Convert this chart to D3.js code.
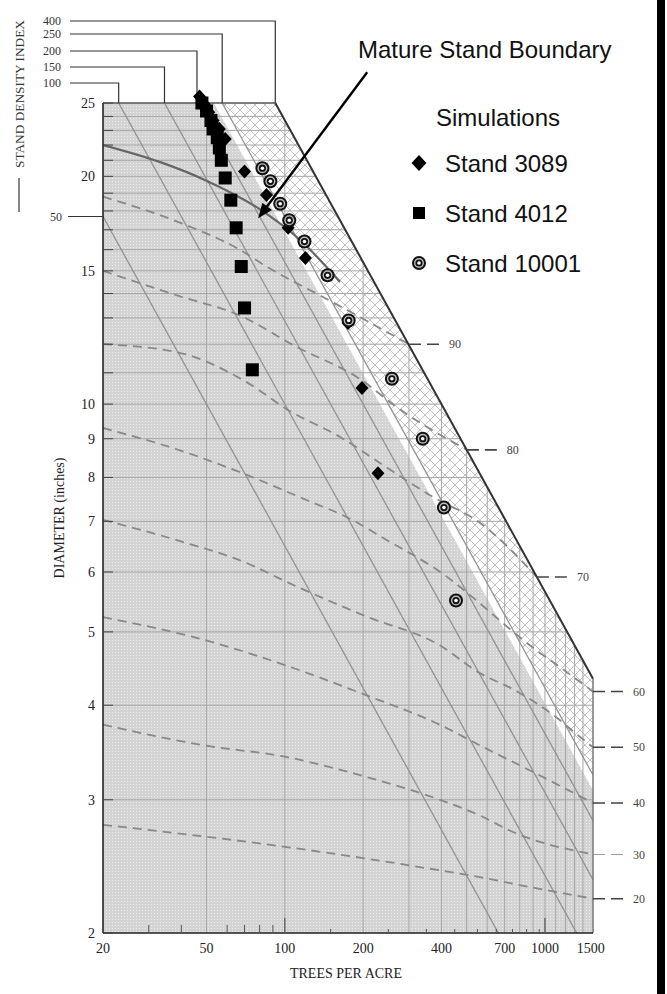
<!DOCTYPE html>
<html>
<head>
<meta charset="utf-8">
<script src="https://cdn.jsdelivr.net/npm/d3@7"></script>
<style>
  body { margin: 0; background: #fff; }
  svg { display: block; }
</style>
</head>
<body>
<svg id="chart" width="667" height="994"></svg>
<script>
// ---- data ----
const tpaTicks = [20, 50, 100, 200, 400, 700, 1000, 1500];
const tpaGrid = [50, 100, 200, 300, 400, 500, 600, 700, 800, 900, 1000, 1100, 1200, 1300, 1400];
const tpaMinor = [30, 40, 60, 70, 80, 90, 150, 250, 350, 450, 550, 650, 750, 850, 950];
const tpaMid = [100, 1000];
const diaTicks = [25, 20, 15, 10, 9, 8, 7, 6, 5, 4, 3, 2];
const diaGrid = d3.range(3, 25);

const sdiTopLabels = [400, 250, 200, 150, 100];
const sdiLines = [50, 100, 150, 200, 250];
const maxSdi = 400;
const stippleSdi = 232;
const hatchSdi = 250;

// dashed curves, [trees per acre, diameter]
const h90 = [[20, 18.8], [39, 17.4], [67, 16.0], [85, 15.2], [149, 13.7], [300, 12.0]];
const h80 = [[20, 15.0], [39, 13.9], [67, 13.1], [111, 11.9], [194, 10.8], [270, 9.9], [501, 8.7]];
const h70 = [[20, 12.0], [39, 11.7], [71, 10.7], [104, 9.8], [163, 9.05], [232, 8.36], [371, 7.54], [562, 6.97], [931, 5.91]];
const h60 = [[20, 9.3], [39, 8.7], [69, 8.1], [121, 7.47], [173, 7.09], [247, 6.61], [371, 6.09], [957, 4.69], [1143, 4.49], [1530, 4.17]];
const h50 = [[20, 7.03], [39, 6.6], [71, 6.17], [104, 5.8], [203, 5.25], [394, 4.8], [562, 4.41], [753, 4.2], [931, 4.02], [1112, 3.85], [1328, 3.66], [1530, 3.52]];
const h40 = [[20, 5.23], [49, 4.88], [100, 4.52], [203, 4.13], [394, 3.77], [562, 3.54], [876, 3.28], [1530, 2.97]];
const h30 = [[20, 3.77], [49, 3.54], [100, 3.42], [203, 3.22], [394, 3.0], [562, 2.86], [753, 2.72], [1530, 2.54]];
const h20 = [[20, 2.78], [100, 2.6], [203, 2.51], [394, 2.42], [562, 2.37], [876, 2.3], [1530, 2.22]];
const heightLabels = [90, 80, 70, 60, 50, 40, 30, 20];

const matureBoundary = [[20, 22.0], [33, 20.9], [49, 19.8], [80, 18.1], [114, 16.5], [163, 14.5]];
const arrowTip = [79, 17.6];

const stand3089Tpa = [47, 49, 51, 53, 56, 59, 70, 85, 103, 120, 175, 198, 228];
const stand3089Dia = [25.5, 24.9, 24.3, 23.7, 23.1, 22.4, 20.3, 18.9, 17.1, 15.6, 12.8, 10.5, 8.1];
const stand4012Tpa = [48, 50, 52, 53, 55, 56, 57, 59, 62, 65, 68, 70, 75];
const stand4012Dia = [25.0, 24.4, 23.7, 23.1, 22.5, 21.8, 21.0, 19.9, 18.6, 17.1, 15.2, 13.4, 11.1];
const stand10001Tpa = [82, 88, 96, 104, 119, 146, 176, 258, 339, 409, 455];
const stand10001Dia = [20.5, 19.7, 18.4, 17.5, 16.4, 14.8, 12.9, 10.8, 9.0, 7.3, 5.5];
const legendNames = ['Stand 3089', 'Stand 4012', 'Stand 10001'];

// ---- scales ----
const svg = d3.select('#chart');
const x = d3.scaleLog().domain([20, 1530]).range([103, 593]);
const y = d3.scaleLog().domain([2, 25]).range([933, 103]);
const [tMin, tMax] = x.domain();
const [dMin, dMax] = y.domain();

// stand density index relation
const tpaAt = (sdi, d) => sdi * Math.pow(d / 10, -1.605);
const diaAt = (sdi, t) => 10 * Math.pow(sdi / t, 1 / 1.605);
const pt = d => [x(d[0]), y(d[1])];
const poly = pts => 'M' + pts.map(p => pt(p).join(',')).join('L') + 'Z';

const serif = '"Liberation Serif", "DejaVu Serif", serif';
const sans = '"Liberation Sans", Arial, sans-serif';

svg.append('rect').attr('width', 667).attr('height', 994).attr('fill', '#fff');

// patterns
const defs = svg.append('defs');
const stip = defs.append('pattern').attr('id', 'stip')
    .attr('patternUnits', 'userSpaceOnUse').attr('width', 3).attr('height', 3);
stip.append('rect').attr('width', 3).attr('height', 3).attr('fill', '#d3d3d3');
stip.append('rect').attr('x', 1).attr('y', 1).attr('width', 1).attr('height', 1).attr('fill', '#ededed');

const hatch = defs.append('pattern').attr('id', 'hatch')
    .attr('patternUnits', 'userSpaceOnUse').attr('width', 10).attr('height', 10);
hatch.append('rect').attr('width', 10).attr('height', 10).attr('fill', '#fff');
hatch.append('path').attr('d', 'M0,0L10,10M10,0L0,10')
    .attr('stroke', '#bcbcbc').attr('stroke-width', 0.9);

const plotPoly = [[tMin, dMin], [tMin, dMax], [tpaAt(maxSdi, dMax), dMax],
    [tMax, diaAt(maxSdi, tMax)], [tMax, dMin]];
defs.append('clipPath').attr('id', 'plotClip')
    .append('path').attr('d', poly(plotPoly));

// filled zones
svg.append('path')
    .attr('d', poly([[tMin, dMin], [tMin, dMax], [tpaAt(stippleSdi, dMax), dMax],
        [tMax, diaAt(stippleSdi, tMax)], [tMax, dMin]]))
    .attr('fill', 'url(#stip)');
svg.append('path')
    .attr('d', poly([[tpaAt(hatchSdi, dMax), dMax], [tpaAt(maxSdi, dMax), dMax],
        [tMax, diaAt(maxSdi, tMax)], [tMax, diaAt(hatchSdi, tMax)]]))
    .attr('fill', 'url(#hatch)');

const inner = svg.append('g').attr('clip-path', 'url(#plotClip)');

// grid
inner.selectAll('.hg').data(diaGrid).enter().append('line')
    .attr('x1', x(tMin)).attr('x2', x(tMax))
    .attr('y1', d => y(d)).attr('y2', d => y(d))
    .attr('stroke', '#a6a6a6').attr('stroke-width', 1);
inner.selectAll('.vg').data(tpaGrid).enter().append('line')
    .attr('x1', d => x(d)).attr('x2', d => x(d))
    .attr('y1', y(dMin)).attr('y2', y(dMax))
    .attr('stroke', '#a6a6a6').attr('stroke-width', 1);

// SDI lines
inner.selectAll('.sdi').data(sdiLines).enter().append('line')
    .attr('x1', x(tMin)).attr('y1', s => y(diaAt(s, tMin)))
    .attr('x2', x(tMax)).attr('y2', s => y(diaAt(s, tMax)))
    .attr('stroke', '#939393').attr('stroke-width', 1.3);

// dashed height curves
const curves = [h90, h80, h70, h60, h50, h40, h30, h20];
const line = d3.line().x(d => x(d[0])).y(d => y(d[1])).curve(d3.curveMonotoneX);
inner.selectAll('.hc').data(curves).enter().append('path')
    .attr('d', line)
    .attr('fill', 'none').attr('stroke', '#888').attr('stroke-width', 1.8)
    .attr('stroke-dasharray', '9,6');

// mature stand boundary
inner.append('path').datum(matureBoundary)
    .attr('d', d3.line().x(d => x(d[0])).y(d => y(d[1])).curve(d3.curveMonotoneX))
    .attr('fill', 'none').attr('stroke', '#666').attr('stroke-width', 2.2);

// outline
svg.append('line')
    .attr('x1', x(tpaAt(maxSdi, dMax))).attr('y1', y(dMax))
    .attr('x2', x(tMax)).attr('y2', y(diaAt(maxSdi, tMax)))
    .attr('stroke', '#333').attr('stroke-width', 2);
svg.append('line')
    .attr('x1', x(tMin)).attr('y1', y(dMax))
    .attr('x2', x(tpaAt(maxSdi, dMax))).attr('y2', y(dMax))
    .attr('stroke', '#555').attr('stroke-width', 1.5);
svg.append('line')
    .attr('x1', x(tMax)).attr('y1', y(diaAt(maxSdi, tMax)))
    .attr('x2', x(tMax)).attr('y2', y(dMin))
    .attr('stroke', '#777').attr('stroke-width', 1.5);
svg.append('line')
    .attr('x1', x(tMin)).attr('y1', y(dMin)).attr('x2', x(tMin)).attr('y2', y(dMax))
    .attr('stroke', '#222').attr('stroke-width', 1.6);
svg.append('line')
    .attr('x1', x(tMin)).attr('y1', y(dMin)).attr('x2', x(tMax)).attr('y2', y(dMin))
    .attr('stroke', '#222').attr('stroke-width', 1.6);

// ticks
svg.selectAll('.yt').data(d3.range(2, 26)).enter().append('line')
    .attr('x1', x(tMin)).attr('x2', x(tMin) + 10)
    .attr('y1', d => y(d)).attr('y2', d => y(d))
    .attr('stroke', '#444').attr('stroke-width', 1);
svg.selectAll('.xt').data(tpaMinor).enter().append('line')
    .attr('x1', d => x(d)).attr('x2', d => x(d))
    .attr('y1', y(dMin)).attr('y2', d => y(dMin) - (d < 100 ? 8 : 4))
    .attr('stroke', '#555').attr('stroke-width', 1);
svg.selectAll('.xm').data(tpaMid).enter().append('line')
    .attr('x1', d => x(d)).attr('x2', d => x(d))
    .attr('y1', y(dMin)).attr('y2', y(dMin) - 15)
    .attr('stroke', '#555').attr('stroke-width', 1.2);

// tick labels
svg.selectAll('.yl').data(diaTicks).enter().append('text')
    .attr('x', 95).attr('y', d => y(d)).attr('dy', '0.35em')
    .attr('text-anchor', 'end').attr('font-family', serif).attr('font-size', 14)
    .attr('fill', '#222').text(d => d);
svg.selectAll('.xl').data(tpaTicks).enter().append('text')
    .attr('x', d => x(d)).attr('y', 953)
    .attr('text-anchor', 'middle').attr('font-family', serif).attr('font-size', 14)
    .attr('fill', '#222').text(d => d);

svg.append('text').attr('x', 346).attr('y', 978).attr('text-anchor', 'middle')
    .attr('font-family', serif).attr('font-size', 14).attr('fill', '#222')
    .text('TREES PER ACRE');
svg.append('text').attr('transform', 'translate(64,518) rotate(-90)')
    .attr('text-anchor', 'middle').attr('font-family', serif).attr('font-size', 14)
    .attr('fill', '#222').text('DIAMETER (inches)');
svg.append('text').attr('transform', 'translate(24,94) rotate(-90)')
    .attr('text-anchor', 'middle').attr('font-family', serif).attr('font-size', 12)
    .attr('textLength', 148).attr('lengthAdjust', 'spacingAndGlyphs')
    .attr('fill', '#333').text('STAND DENSITY INDEX');
svg.append('line').attr('x1', 19).attr('x2', 19).attr('y1', 178).attr('y2', 212)
    .attr('stroke', '#333').attr('stroke-width', 1.2);

// SDI labels at the top, with connectors to the top edge
const topRows = [21, 34, 51, 67, 83];
sdiTopLabels.forEach((s, i) => {
    const cx = x(tpaAt(s, dMax));
    svg.append('path')
        .attr('d', `M70,${topRows[i]}H${cx}V${y(dMax)}`)
        .attr('fill', 'none').attr('stroke', '#333').attr('stroke-width', 1.2);
    svg.append('text').attr('x', 43).attr('y', topRows[i]).attr('dy', '0.35em')
        .attr('font-family', serif).attr('font-size', 12).attr('fill', '#333').text(s);
});
// SDI 50 meets the left axis
svg.append('line').attr('x1', 68).attr('x2', x(tMin))
    .attr('y1', y(diaAt(50, tMin))).attr('y2', y(diaAt(50, tMin)))
    .attr('stroke', '#333').attr('stroke-width', 1.2);
svg.append('text').attr('x', 62).attr('y', y(diaAt(50, tMin))).attr('dy', '0.35em')
    .attr('text-anchor', 'end').attr('font-family', serif).attr('font-size', 12)
    .attr('fill', '#333').text(50);

// height labels with dashed leaders
curves.forEach((c, i) => {
    const [ex, ey] = pt(c[c.length - 1]);
    const light = heightLabels[i] === 30;
    svg.append('line').attr('x1', ex).attr('x2', ex + 34).attr('y1', ey).attr('y2', ey)
        .attr('stroke', light ? '#999' : '#444').attr('stroke-width', light ? 1 : 1.6)
        .attr('stroke-dasharray', '12,6');
    svg.append('text').attr('x', ex + 40).attr('y', ey).attr('dy', '0.35em')
        .attr('font-family', serif).attr('font-size', 12).attr('fill', '#444')
        .text(heightLabels[i]);
});

// markers
const diamond = s => `M0,${-s}L${s * 0.93},0L0,${s}L${-s * 0.93},0Z`;
function drawDiamonds(g, tpa, dia, s) {
    g.selectAll(null).data(tpa).enter().append('path')
        .attr('transform', (t, i) => `translate(${x(t)},${y(dia[i])})`)
        .attr('d', diamond(s)).attr('fill', '#000');
}
function drawSquares(g, tpa, dia, s) {
    g.selectAll(null).data(tpa).enter().append('rect')
        .attr('x', (t) => x(t) - s / 2).attr('y', (t, i) => y(dia[i]) - s / 2)
        .attr('width', s).attr('height', s).attr('fill', '#000');
}
function ring(g, cx, cy) {
    g.append('circle').attr('cx', cx).attr('cy', cy).attr('r', 7).attr('fill', '#111');
    g.append('circle').attr('cx', cx).attr('cy', cy).attr('r', 5).attr('fill', '#bdbdbd');
    g.append('circle').attr('cx', cx).attr('cy', cy).attr('r', 3.6).attr('fill', '#111');
    g.append('circle').attr('cx', cx).attr('cy', cy).attr('r', 1.8).attr('fill', '#fff');
}
const marks = svg.append('g');
drawSquares(marks, stand4012Tpa, stand4012Dia, 13);
drawDiamonds(marks, stand3089Tpa, stand3089Dia, 7);
stand10001Tpa.forEach((t, i) => ring(marks, x(t), y(stand10001Dia[i])));

// annotation arrow
const [ax, ay] = pt(arrowTip);
const tail = [ax + 109, ay - 146];
const ang = Math.atan2(ay - tail[1], ax - tail[0]);
svg.append('line').attr('x1', tail[0]).attr('y1', tail[1])
    .attr('x2', ax - 10 * Math.cos(ang)).attr('y2', ay - 10 * Math.sin(ang))
    .attr('stroke', '#000').attr('stroke-width', 2.4);
svg.append('path')
    .attr('transform', `translate(${ax},${ay}) rotate(${ang * 180 / Math.PI})`)
    .attr('d', 'M0,0L-15,-6L-15,6Z').attr('fill', '#000');
svg.append('text').attr('x', 358).attr('y', 58)
    .attr('font-family', sans).attr('font-size', 24).attr('fill', '#111')
    .text('Mature Stand Boundary');

// legend
const lg = svg.append('g');
lg.append('text').attr('x', 498).attr('y', 126).attr('text-anchor', 'middle')
    .attr('font-family', sans).attr('font-size', 24).attr('fill', '#111').text('Simulations');
const rows = [163, 213, 263];
lg.append('path').attr('transform', `translate(419,${rows[0]})`).attr('d', diamond(8)).attr('fill', '#000');
lg.append('rect').attr('x', 413).attr('y', rows[1] - 6).attr('width', 12).attr('height', 12).attr('fill', '#000');
ring(lg, 419, rows[2]);
legendNames.forEach((n, i) => {
    lg.append('text').attr('x', 445).attr('y', rows[i] + 9)
        .attr('font-family', sans).attr('font-size', 24).attr('fill', '#111').text(n);
});

// dark edge on the right
svg.append('rect').attr('x', 657).attr('y', 0).attr('width', 8).attr('height', 994).attr('fill', '#000');
</script>
</body>
</html>
